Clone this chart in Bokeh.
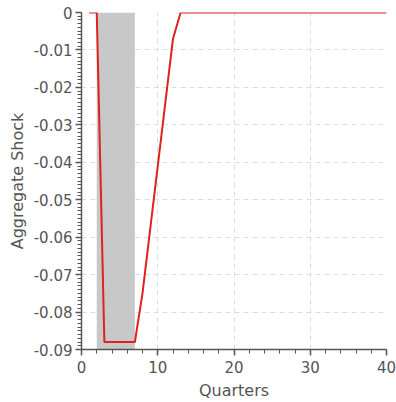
from bokeh.plotting import figure
from bokeh.models import FixedTicker, CustomJSTickFormatter, Range1d
from bokeh.embed import file_html
from bokeh.resources import INLINE

# Impulse response of the aggregate shock, by quarter
quarters = list(range(1, 41))
shock = [0.0, 0.0, -0.088, -0.088, -0.088, -0.088, -0.088,
         -0.075, -0.058, -0.041, -0.024, -0.007] + [0.0] * 28

# Shaded shock window (quarters)
shade_start = 2
shade_end = 7

y_ticks = [-0.09, -0.08, -0.07, -0.06, -0.05, -0.04, -0.03, -0.02, -0.01, 0.0]
y_minor = [round(-0.001 * i, 3) for i in range(0, 91)]
x_ticks = [0, 10, 20, 30, 40]
x_minor = [2 * i for i in range(0, 21)]

text_color = "#555555"
font = "DejaVu Sans"

p = figure(width=396, height=402, output_backend="svg", toolbar_location=None,
           x_range=Range1d(0, 40), y_range=Range1d(-0.09, 0.0),
           min_border_left=81, min_border_right=10,
           min_border_top=12, min_border_bottom=53)
p.outline_line_color = None
p.background_fill_color = "white"
p.border_fill_color = "white"

p.harea(y=[-0.09, 0.0], x1=[shade_start, shade_start], x2=[shade_end, shade_end],
        fill_color="#c8c8c8", fill_alpha=1.0)

p.line(quarters, shock, line_color="#e0211d", line_width=2)

p.xaxis.ticker = FixedTicker(ticks=x_ticks, minor_ticks=x_minor)
p.yaxis.ticker = FixedTicker(ticks=y_ticks, minor_ticks=y_minor)
p.yaxis.formatter = CustomJSTickFormatter(
    code="return Math.abs(tick) < 1e-9 ? '0' : tick.toFixed(2);")

p.xaxis.axis_label = "Quarters"
p.yaxis.axis_label = "Aggregate Shock"

for ax in (p.xaxis, p.yaxis):
    ax.axis_label_text_font = font
    ax.axis_label_text_font_size = "16px"
    ax.axis_label_text_font_style = "normal"
    ax.axis_label_text_color = text_color
    ax.major_label_text_font = font
    ax.major_label_text_font_size = "15px"
    ax.major_label_text_color = text_color
    ax.axis_line_color = text_color
    ax.major_tick_line_color = text_color
    ax.minor_tick_line_color = text_color
    ax.major_tick_in = 0
    ax.major_tick_out = 6
    ax.minor_tick_in = 0
    ax.minor_tick_out = 4
    ax.axis_line_width = 1.5
    ax.major_tick_line_width = 1.5

p.xaxis.major_label_standoff = 5
p.yaxis.major_label_standoff = 3
p.xaxis.axis_label_standoff = 5
p.yaxis.axis_label_standoff = 4

p.grid.grid_line_color = "#dddddd"
p.grid.grid_line_dash = "5 4"
p.grid.grid_line_width = 1
p.xgrid.ticker = FixedTicker(ticks=x_ticks)
p.ygrid.ticker = FixedTicker(ticks=y_ticks)

open("out.html", "w").write(file_html(p, INLINE))
